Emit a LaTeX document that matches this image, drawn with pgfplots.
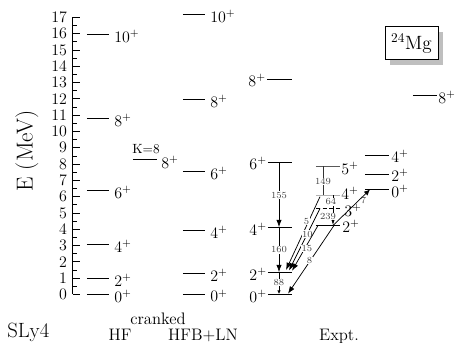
\documentclass[border=0pt]{standalone}
\usepackage{pgfplots}
\pgfplotsset{compat=1.18}
\usetikzlibrary{arrows.meta}
\begin{document}
\begin{tikzpicture}[
 lev/.style={black, line width=0.8pt},
 tr/.style={black, line width=0.55pt, -{Latex[length=5.5pt,width=4pt]}},
 lab/.style={inner sep=0pt, font=\fontsize{11.5}{14}\selectfont},
 bel/.style={fill=white, inner sep=0.4pt, font=\scriptsize, text=black!75},
 bot/.style={font=\fontsize{12.5}{14}\selectfont, anchor=base, inner sep=0pt},
]
\begin{axis}[
 scale only axis, width=288.75pt, height=207.825pt,
 xmin=73, xmax=458, ymin=0, ymax=17,
 axis x line=none, axis y line*=left,
 ytick={0,...,17}, minor y tick num=1,
 tick align=inside,
 major tick length=5.5pt, minor tick length=3pt,
 axis line style={line width=0.75pt},
 every tick/.style={black, line width=0.6pt},
 yticklabel style={font=\fontsize{11.5}{13}\selectfont, xshift=-1pt},
 clip=false,
]
% ---- HF
\addplot[lev] coordinates {(87,0) (109,0)};
\addplot[lev] coordinates {(87,0.982) (109,0.982)};
\addplot[lev] coordinates {(87,3.067) (109,3.067)};
\addplot[lev] coordinates {(87,6.380) (109,6.380)};
\addplot[lev] coordinates {(87,10.798) (109,10.798)};
\addplot[lev] coordinates {(87,15.951) (109,15.951)};
\node[lab,anchor=west] at (axis cs:114,-0.1) {$0^+$};
\node[lab,anchor=west] at (axis cs:114,0.87) {$2^+$};
\node[lab,anchor=west] at (axis cs:114,2.94) {$4^+$};
\node[lab,anchor=west] at (axis cs:114,6.26) {$6^+$};
\node[lab,anchor=west] at (axis cs:114,10.67) {$8^+$};
\node[lab,anchor=west] at (axis cs:114,15.83) {$10^+$};
% ---- cranked HF K=8
\addplot[lev] coordinates {(133,8.282) (157,8.282)};
\node[inner sep=0pt, font=\fontsize{10}{12}\selectfont, anchor=base] at (axis cs:146,8.66) {K=8};
\node[lab,anchor=west] at (axis cs:161,8.1) {$8^+$};
% ---- HFB+LN
\addplot[lev] coordinates {(183,0) (205,0)};
\addplot[lev] coordinates {(183,1.288) (205,1.288)};
\addplot[lev] coordinates {(183,3.926) (205,3.926)};
\addplot[lev] coordinates {(183,7.546) (205,7.546)};
\addplot[lev] coordinates {(183,11.963) (205,11.963)};
\addplot[lev] coordinates {(183,17.178) (205,17.178)};
\node[lab,anchor=west] at (axis cs:210,-0.08) {$0^+$};
\node[lab,anchor=west] at (axis cs:210,1.17) {$2^+$};
\node[lab,anchor=west] at (axis cs:210,3.8) {$4^+$};
\node[lab,anchor=west] at (axis cs:210,7.42) {$6^+$};
\node[lab,anchor=west] at (axis cs:210,11.84) {$8^+$};
\node[lab,anchor=west] at (axis cs:210,17.05) {$10^+$};
% ---- Expt ground band
\addplot[lev] coordinates {(268,0) (292,0)};
\addplot[lev] coordinates {(268,1.350) (292,1.350)};
\addplot[lev] coordinates {(268,4.110) (292,4.110)};
\addplot[lev] coordinates {(268,8.098) (292,8.098)};
\addplot[lev] coordinates {(267,13.190) (292,13.190)};
\node[lab,anchor=east] at (axis cs:267,-0.1) {$0^+$};
\node[lab,anchor=east] at (axis cs:267,1.25) {$2^+$};
\node[lab,anchor=east] at (axis cs:267,4.0) {$4^+$};
\node[lab,anchor=east] at (axis cs:267,8.03) {$6^+$};
\node[lab,anchor=east] at (axis cs:266,13.12) {$8^+$};
% ---- gamma band
\addplot[lev] coordinates {(316,4.233) (340,4.233)};
\addplot[black, line width=0.8pt, dash pattern=on 3pt off 2pt] coordinates {(316,5.276) (340,5.276)};
\addplot[lev, black!30] coordinates {(316,6.074) (340,6.074)};
\addplot[lev, black!65] coordinates {(316,7.853) (340,7.853)};
\node[lab,anchor=west] at (axis cs:342,4.18) {$2^+$};
\node[lab,anchor=west] at (axis cs:344,5.15) {$3^+$};
\node[lab,anchor=west] at (axis cs:341,6.2) {$4^+$};
\node[lab,anchor=west] at (axis cs:341,7.75) {$5^+$};
% ---- third band
\addplot[lev] coordinates {(365,6.442) (389,6.442)};
\addplot[lev] coordinates {(365,7.362) (389,7.362)};
\addplot[lev] coordinates {(365,8.528) (389,8.528)};
\node[lab,anchor=west] at (axis cs:391,6.31) {$0^+$};
\node[lab,anchor=west] at (axis cs:391,7.29) {$2^+$};
\node[lab,anchor=west] at (axis cs:391,8.46) {$4^+$};
\addplot[lev] coordinates {(413,12.209) (437,12.209)};
\node[lab,anchor=west] at (axis cs:438,12.1) {$8^+$};
% ---- transitions
\addplot[tr] coordinates {(279,8.098) (279,4.13)};
\node[bel] at (axis cs:279,6.1) {155};
\addplot[tr] coordinates {(279,4.11) (279,1.37)};
\node[bel] at (axis cs:279,2.73) {160};
\addplot[black, line width=0.5pt, -{Latex[length=2.5pt,width=2.5pt]}] coordinates {(279,1.35) (279,0.04)};
\node[bel] at (axis cs:279,0.75) {88};
\addplot[black!80, line width=0.55pt] coordinates {(323,7.853) (323,6.074)};
\node[bel] at (axis cs:323,6.92) {149};
\addplot[tr] coordinates {(333,6.074) (333,4.27)};
\node[bel] at (axis cs:331,5.69) {64};
\addplot[tr] coordinates {(320,6.0) (286,1.5)};
\node[bel] at (axis cs:306.5,4.5) {5};
\addplot[tr] coordinates {(320,5.276) (289,1.47)};
\node[bel] at (axis cs:307.5,3.7) {10};
\addplot[tr] coordinates {(318,4.233) (292,1.45)};
\node[bel] at (axis cs:307,2.83) {15};
\node[bel] at (axis cs:328,4.77) {239};
\addplot[tr] coordinates {(334,4.233) (288,0.05)};
\node[bel] at (axis cs:309.5,2.07) {8};
\addplot[black, line width=0.55pt, -{Latex[length=4.5pt,width=4pt]}] coordinates {(333,4.233) (370,6.442)};
\node[bel, fill=none] at (axis cs:363.5,5.75) {7};
% ---- 24Mg box
\node[fill=black!25, minimum width=39.75pt, minimum height=24.75pt, inner sep=0pt] at (axis cs:416.5,15.09) {};
\node[draw, fill=white, line width=0.7pt, minimum width=39.75pt, minimum height=24.75pt, inner sep=0pt, font=\Large] at (axis cs:411.5,15.4) {$^{24}$Mg};
% ---- bottom texts
\node[font=\fontsize{15.5}{18}\selectfont, anchor=base west, inner sep=0pt] at (axis cs:7,-2.63) {SLy4};
\node[bot] at (axis cs:158,-1.86) {cranked};
\node[bot] at (axis cs:120,-2.84) {HF};
\node[bot] at (axis cs:203,-2.84) {HFB+LN};
\node[bot] at (axis cs:339,-2.8) {Expt.};
\node[font=\LARGE, rotate=90, inner sep=0pt] at (axis cs:27,8.8) {E (MeV)};
\coordinate (bbl) at (axis cs:0,-2.975);
\coordinate (btr) at (axis cs:458,18.067);
\end{axis}
\pgfresetboundingbox
\path[use as bounding box] (bbl) rectangle (btr);
\end{tikzpicture}
\end{document}
